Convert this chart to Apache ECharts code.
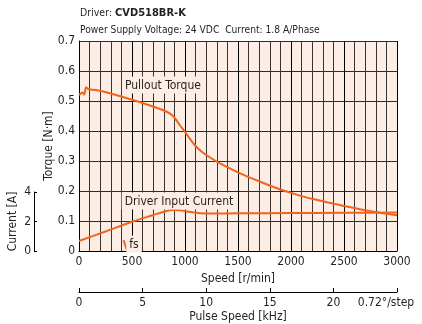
<!DOCTYPE html>
<html>
<head>
<meta charset="utf-8">
<script src="https://cdn.jsdelivr.net/npm/echarts@6/dist/echarts.min.js"></script>
<style>
  html, body { margin: 0; padding: 0; background: #fff; }
  #chart { width: 422px; height: 324px; }
</style>
</head>
<body>
<div id="chart"></div>
<script>
// 速度 [r/min] と最大トルク [N·m]
const torqueSpeed = [0, 10, 35, 50, 66, 90, 160, 290, 540, 790, 860, 900, 950, 1000, 1050, 1100, 1150, 1200, 1330, 1520, 1710, 1900, 2000, 2100, 2200, 2300, 2400, 2500, 2600, 2700, 2800, 2900, 3000]
const torqueValues = [0.52, 0.523, 0.528, 0.521, 0.546, 0.539, 0.537, 0.526, 0.5, 0.47, 0.458, 0.445, 0.42, 0.397, 0.372, 0.35, 0.333, 0.32, 0.292, 0.259, 0.231, 0.205, 0.194, 0.183, 0.174, 0.166, 0.158, 0.150, 0.143, 0.136, 0.130, 0.124, 0.119]

// ドライバ入力電流 [A]
const currentSpeed = [0, 250, 500, 700, 800, 880, 950, 1050, 1150, 1250, 1500, 2000, 2500, 3000]
const currentValues = [0.67, 1.3, 1.95, 2.4, 2.62, 2.74, 2.72, 2.6, 2.52, 2.5, 2.51, 2.53, 2.55, 2.56]

// fs (自起動周波数)
const fsSpeed = [420, 453]
const fsTorque = [0.036, 0.002]

// 目盛
const speedTicks = [0, 500, 1000, 1500, 2000, 2500, 3000]
const torqueTicks = [0, 0.1, 0.2, 0.3, 0.4, 0.5, 0.6, 0.7]
const currentTicks = [0, 2, 4]
const pulseTicks = [0, 5, 10, 15, 20, 25]

const FONT = '"DejaVu Sans Condensed", "Liberation Sans", sans-serif'
const TXT = '#231f20'
const ORANGE = '#f2641e'
const BG = '#fdeee5'

// 曲線の注記（マーカーなしのラベル）
function note(text, coord) {
  return {
    symbol: 'rect', symbolSize: 1,
    itemStyle: { color: 'rgba(0,0,0,0)' },
    label: {
      show: true, position: 'inside', formatter: '{t|' + text + '}',
      rich: {
        t: {
          fontFamily: FONT, fontSize: 12, color: TXT,
          backgroundColor: BG, padding: [3, 3, 2, 3]
        }
      }
    },
    data: [{ coord: coord }]
  }
}

const myecharts = echarts.init(document.getElementById('chart'))

const option = {
  animation: false,
  textStyle: { fontFamily: FONT, color: TXT },
  title: [
    {
      left: 80, top: 8, padding: 0,
      text: 'Driver: {b|CVD518BR-K}',
      textStyle: {
        fontFamily: FONT, fontSize: 10.5, fontWeight: 'normal', color: TXT,
        rich: { b: { fontFamily: FONT, fontWeight: 'bold', fontSize: 11, color: TXT } }
      }
    },
    {
      left: 80, top: 25, padding: 0,
      text: 'Power Supply Voltage: 24 VDC  Current: 1.8 A/Phase',
      textStyle: { fontFamily: FONT, fontSize: 10.2, fontWeight: 'normal', color: TXT }
    }
  ],
  grid: [
    { left: 79, top: 41, width: 318, height: 210, backgroundColor: BG, show: true, borderWidth: 0 },
    { left: 34, top: 192, width: 10, height: 59 },
    { left: 79, top: 282, width: 318, height: 10 }
  ],
  xAxis: [
    {
      type: 'value', gridIndex: 0, min: 0, max: 3000, interval: 500,
      name: 'Speed [r/min]', nameLocation: 'middle', nameGap: 22, nameMoveOverlap: false,
      nameTextStyle: { fontFamily: FONT, fontSize: 12, color: TXT },
      axisLine: { lineStyle: { color: '#000', width: 1 } },
      axisTick: { show: false },
      axisLabel: {
        fontFamily: FONT, fontSize: 12, color: TXT, margin: 5,
        formatter: v => speedTicks.includes(v) ? String(v) : ''
      },
      splitLine: { show: true, lineStyle: { color: '#000', width: 1 } },
      minorTick: { show: false, splitNumber: 5 },
      minorSplitLine: { show: true, lineStyle: { color: '#3a3432', width: 1 } }
    },
    { type: 'value', gridIndex: 1, show: false, min: 0, max: 1 },
    {
      type: 'value', gridIndex: 2, min: 0, max: 25, interval: 5,
      name: 'Pulse Speed [kHz]', nameLocation: 'middle', nameGap: 19, nameMoveOverlap: false,
      nameTextStyle: { fontFamily: FONT, fontSize: 12, color: TXT },
      axisLine: { lineStyle: { color: '#000', width: 1 } },
      axisTick: { show: true, inside: true, length: 4, lineStyle: { color: '#000' } },
      axisLabel: {
        fontFamily: FONT, fontSize: 12, color: TXT, margin: 5,
        formatter: v => {
          if (v === 25) return '{u|0.72°/step}'
          return pulseTicks.includes(v) ? String(v) : ''
        },
        rich: { u: { fontFamily: FONT, fontSize: 12, color: TXT, padding: [0, 22, 0, 0] } }
      },
      splitLine: { show: false }
    }
  ],
  yAxis: [
    {
      type: 'value', gridIndex: 0, min: 0, max: 0.7, interval: 0.1,
      name: 'Torque [N·m]', nameLocation: 'middle', nameGap: 24, nameMoveOverlap: false,
      nameTextStyle: { fontFamily: FONT, fontSize: 12, color: TXT },
      axisLine: { show: true, lineStyle: { color: '#000', width: 1 } },
      axisTick: { show: false },
      axisLabel: {
        fontFamily: FONT, fontSize: 12, color: TXT, margin: 4,
        formatter: v => {
          const t = torqueTicks.find(x => Math.abs(x - v) < 1e-6)
          if (t === undefined) return ''
          return t === 0 ? '0' : t.toFixed(1)
        }
      },
      splitLine: { show: true, lineStyle: { color: '#2e2a28', width: 1 } }
    },
    {
      type: 'value', gridIndex: 1, min: 0, max: 4, interval: 2, position: 'left',
      name: 'Current [A]', nameLocation: 'middle', nameGap: 15, nameMoveOverlap: false,
      nameTextStyle: { fontFamily: FONT, fontSize: 12, color: TXT },
      axisLine: { show: true, lineStyle: { color: '#000', width: 1 } },
      axisTick: { show: true, inside: true, length: 3, lineStyle: { color: '#000' } },
      axisLabel: {
        fontFamily: FONT, fontSize: 12, color: TXT, margin: 3,
        formatter: v => currentTicks.includes(v) ? String(v) : ''
      },
      splitLine: { show: false }
    },
    // 電流用（主グリッド上、0.7 N·m = 14 A）
    { type: 'value', gridIndex: 0, min: 0, max: 14, show: false, splitLine: { show: false } },
    { type: 'value', gridIndex: 2, min: 0, max: 1, show: false }
  ],
  series: [
    {
      name: 'Pullout Torque', type: 'line', xAxisIndex: 0, yAxisIndex: 0,
      data: torqueSpeed.map((s, i) => [s, torqueValues[i]]),
      showSymbol: false, smooth: 0.2,
      lineStyle: { color: ORANGE, width: 2 },
      markPoint: note('Pullout Torque', [792, 0.553])
    },
    {
      name: 'Driver Input Current', type: 'line', xAxisIndex: 0, yAxisIndex: 2,
      data: currentSpeed.map((s, i) => [s, currentValues[i]]),
      showSymbol: false, smooth: 0.3,
      lineStyle: { color: ORANGE, width: 2 },
      markPoint: note('Driver Input Current', [943, 3.33])
    },
    {
      name: 'fs', type: 'line', xAxisIndex: 0, yAxisIndex: 0,
      data: fsSpeed.map((s, i) => [s, fsTorque[i]]),
      showSymbol: false,
      lineStyle: { color: ORANGE, width: 2 },
      markPoint: note('fs', [519, 0.023])
    },
    { type: 'line', xAxisIndex: 1, yAxisIndex: 1, data: [] },
    { type: 'line', xAxisIndex: 2, yAxisIndex: 3, data: [] }
  ]
}

myecharts.setOption(option)
</script>
</body>
</html>
